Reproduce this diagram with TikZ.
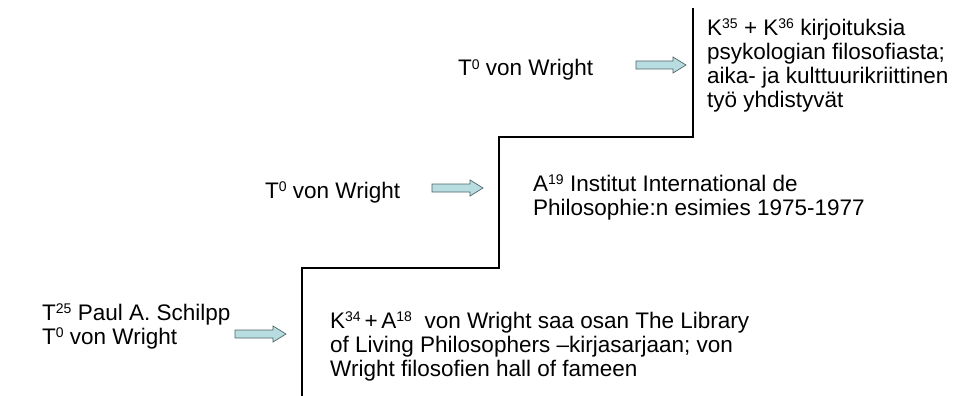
\documentclass[tikz,border=0pt]{standalone}
\usepackage{fontspec}
\setmainfont{Liberation Sans}
\definecolor{arrowfill}{RGB}{183,221,224}
\definecolor{arrowline}{RGB}{80,100,104}
\newcommand\spr[1]{\raisebox{6.3pt}{\fontsize{14}{14}\selectfont #1}}
\tikzset{
  txt/.style={anchor=base west, inner sep=0pt, align=left, font=\fontsize{22.5}{24}\selectfont},
  stair/.style={draw=black, line width=1.2pt},
  blk/.style={fill=arrowfill, draw=arrowline, line width=0.7pt, line join=miter}
}
% block arrow: name, x0, x1, y
\newcommand\blkarrow[4]{%
  \coordinate (#1s) at (#2,#4);
  \coordinate (#1e) at (#3,#4);
  \draw[blk] (#2,#4-4) -- (#3-13,#4-4) -- (#3-13,#4-8) -- (#3,#4) -- (#3-13,#4+8) -- (#3-13,#4+4) -- (#2,#4+4) -- cycle;}
\begin{document}
\begin{tikzpicture}[x=1pt,y=-1pt]
\useasboundingbox (0,0) rectangle (956,396);
% staircase
\coordinate (p1) at (693,8);
\coordinate (p2) at (693,137);
\coordinate (p3) at (499,137);
\coordinate (p4) at (499,268);
\coordinate (p5) at (302,268);
\coordinate (p6) at (302,396);
\draw[stair] (p1) -- (p2) -- (p3) -- (p4) -- (p5) -- (p6);
% arrows
\blkarrow{a1}{235}{286}{334}
\blkarrow{a2}{432}{483}{188}
\blkarrow{a3}{636}{686}{65}
% texts (anchor = baseline of last line)
\node[txt] (l1) at (42,344) {T\spr{25} Paul A. Schilpp\\T\spr{0} von Wright};
\node[txt] (r1) at (330,376) {K\spr{34}\,+\,A\spr{18}\ \ von Wright saa osan The Library\\of Living Philosophers –kirjasarjaan; von\\Wright filosofien hall of fameen};
\node[txt] (l2) at (265,198) {T\spr{0} von Wright};
\node[txt] (r2) at (533,215) {A\spr{19} Institut International de\\Philosophie:n esimies 1975-1977};
\node[txt] (l3) at (458,76) {T\spr{0} von Wright};
\node[txt] (r3) at (707,107) {K\spr{35} + K\spr{36} kirjoituksia\\psykologian filosofiasta;\\aika- ja kulttuurikriittinen\\työ yhdistyvät};
\end{tikzpicture}
\end{document}
